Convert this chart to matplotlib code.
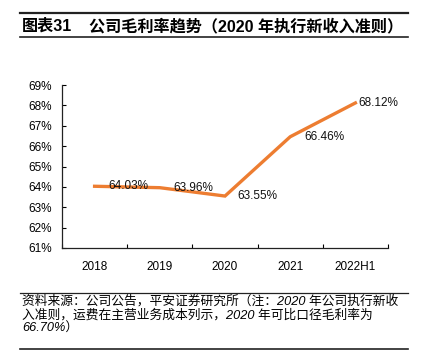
import matplotlib
matplotlib.use("Agg")
import matplotlib.pyplot as plt
from matplotlib.lines import Line2D

categories = ["2018", "2019", "2020", "2021", "2022H1"]
margin = [64.03, 63.96, 63.55, 66.46, 68.12]
labels = ["64.03%", "63.96%", "63.55%", "66.46%", "68.12%"]
yticks = [61, 62, 63, 64, 65, 66, 67, 68, 69]

title_num = "图表31"
title_txt = "公司毛利率趋势（2020 年执行新收入准则）"
footer_lines = [
    "资料来源：公司公告，平安证券研究所（注：2020 年公司执行新收",
    "入准则，运费在主营业务成本列示，2020 年可比口径毛利率为",
    "66.70%）",
]

MIX = ["Liberation Sans", "Noto Sans CJK SC", "DejaVu Sans"]
LAT = ["Liberation Sans", "DejaVu Sans"]

W, H = 423, 352
fig = plt.figure(figsize=(W / 100, H / 100), dpi=100)

ax = fig.add_axes([62 / W, 1 - 248 / H, (388 - 62) / W, (248 - 85) / H])
x = list(range(len(categories)))
ax.plot(x, margin, color="#ED7D31", lw=2.4, solid_joinstyle="miter")

dx = [10, 10, 9, 10, 2]
for xi, v, lab, d in zip(x, margin, labels, dx):
    ax.annotate(lab, (xi, v), xytext=(d, 0), textcoords="offset points",
                ha="left", va="center", fontsize=8.5, family=LAT, color="#111111")

ax.set_xlim(-0.5, len(categories) - 0.5)
ax.set_ylim(61, 69)
ax.set_yticks(yticks)
ax.set_yticklabels([f"{t}%" for t in yticks], family=LAT, fontsize=8.5)
ax.set_xticks(x)
ax.set_xticklabels(categories, family=LAT, fontsize=8.5)
ax.set_xticks([i - 0.5 for i in range(len(categories) + 1)], minor=True)
ax.tick_params(axis="x", which="major", length=0, pad=9)
ax.tick_params(axis="x", which="minor", direction="in", length=3, width=0.8)
ax.tick_params(axis="y", direction="in", length=3, width=0.8, pad=7)
for s in ["top", "right"]:
    ax.spines[s].set_visible(False)
for s in ["left", "bottom"]:
    ax.spines[s].set_linewidth(0.9)
    ax.spines[s].set_color("#222222")

def hline(y, lw):
    fig.add_artist(Line2D([20 / W, 408 / W], [1 - y / H, 1 - y / H],
                          transform=fig.transFigure, color="#222222", lw=lw))

hline(13, 1.6)
hline(37, 1.2)
hline(293, 0.9)
hline(349, 1.2)

fig.text(22 / W, 1 - 26 / H, title_num, family=MIX, fontsize=11.6, fontweight="bold",
         ha="left", va="center")
fig.text(89 / W, 1 - 26 / H, title_txt, family=MIX, fontsize=11.6, fontweight="bold",
         ha="left", va="center")

for i, line in enumerate(footer_lines):
    fig.text(22 / W, 1 - (301 + i * 14) / H, line, family=MIX, fontsize=9.2,
             style="italic", ha="left", va="center")

fig.savefig("out.png", dpi=100)
